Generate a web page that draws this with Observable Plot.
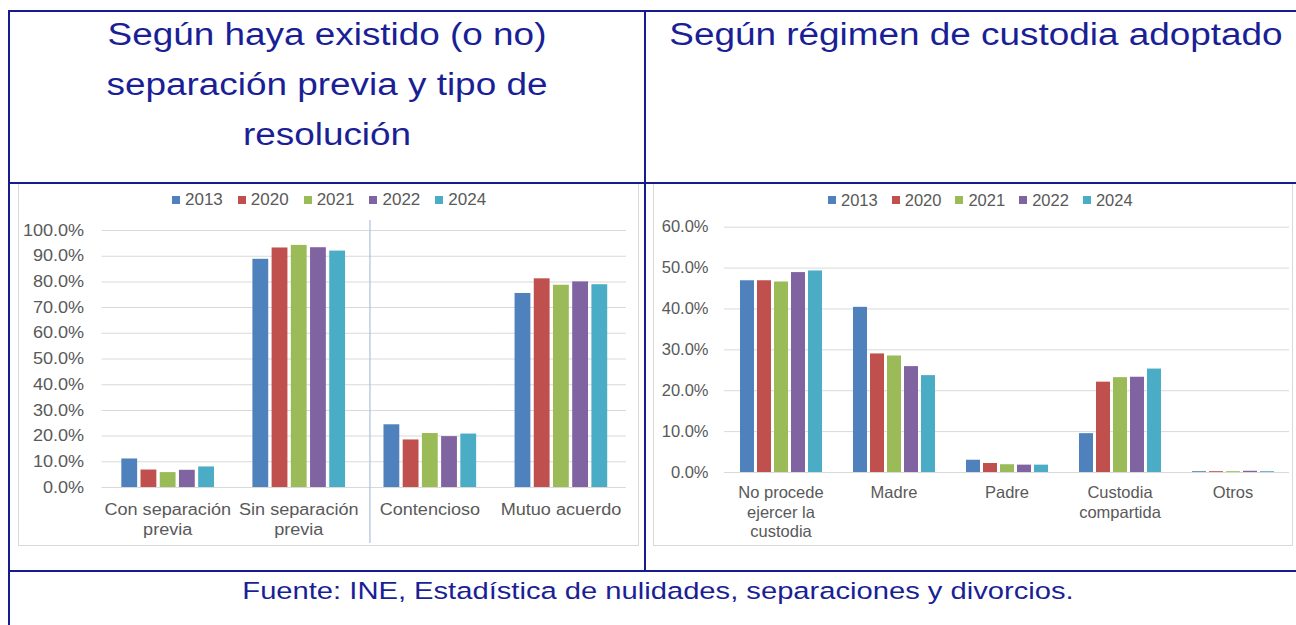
<!DOCTYPE html>
<html>
<head>
<meta charset="utf-8">
<script src="https://cdn.jsdelivr.net/npm/d3@7"></script>
<script src="https://cdn.jsdelivr.net/npm/@observablehq/plot@0.6"></script>
<style>
  html, body { margin: 0; padding: 0; background: #fff; }
  #page { position: relative; width: 1296px; height: 625px; overflow: hidden; background: #fff;
          font-family: "Liberation Sans", Arial, sans-serif; }
  .bline { position: absolute; background: #171b8e; }
  .title { position: absolute; color: #1b1f96; text-align: center; font-size: 31px; line-height: 50px;
           transform: scaleX(1.19); transform-origin: center; white-space: nowrap; }
  .frame { position: absolute; border: 1px solid #d9d9d9; box-sizing: border-box; pointer-events: none; }
  .chart { position: absolute; }
  .legend { position: absolute; }
  #legL .lgL-swatch { margin-right: 15px; }
  #legR .lgR-swatch { margin-right: 14px; }
  #legL .lgL-swatch > svg, #legR .lgR-swatch > svg { margin-right: 5px; }
  #legL .lgL-swatches-wrap, #legR .lgR-swatches-wrap { min-height: 20px; }
</style>
</head>
<body>
<div id="page">
  <div class="title" style="left:10px; top:10px; width:634px;">Según haya existido (o no)<br>separación previa y tipo de<br>resolución</div>
  <div class="title" style="left:646px; top:10px; width:660px;">Según régimen de custodia adoptado</div>
  <div class="title" style="left:8px; top:576px; width:1300px; font-size:24.5px; line-height:30px;">Fuente: INE, Estadística de nulidades, separaciones y divorcios.</div>

  <div id="chartL" class="chart" style="left:18px; top:183px;"></div>
  <div id="chartR" class="chart" style="left:653px; top:183px;"></div>
  <div class="frame" style="left:18px; top:183px; width:621px; height:363px;"></div>
  <div class="frame" style="left:653px; top:183px; width:640px; height:363px;"></div>
  <div id="legL" class="legend" style="left:172px; top:190px;"></div>
  <div id="legR" class="legend" style="left:828px; top:190px;"></div>

  <div class="bline" style="left:8px; top:10px; width:1300px; height:2px;"></div>
  <div class="bline" style="left:8px; top:10px; width:2px; height:620px;"></div>
  <div class="bline" style="left:644px; top:10px; width:2px; height:562px;"></div>
  <div class="bline" style="left:8px; top:182px; width:1300px; height:2px;"></div>
  <div class="bline" style="left:8px; top:570px; width:1300px; height:2px;"></div>
</div>
<script>
// ---- data ----
const years = ["2013", "2020", "2021", "2022", "2024"];
const yearColors = ["#4F81BD", "#C0504D", "#9BBB59", "#8064A2", "#4BACC6"];

const leftCategories = ["Con separación previa", "Sin separación previa", "Contencioso", "Mutuo acuerdo"];
const leftLabels = ["Con separación\nprevia", "Sin separación\nprevia", "Contencioso", "Mutuo acuerdo"];
const left2013 = [11.1, 88.8, 24.4, 75.5];
const left2020 = [6.8, 93.2, 18.5, 81.2];
const left2021 = [5.8, 94.2, 21.0, 78.7];
const left2022 = [6.7, 93.3, 19.8, 80.0];
const left2024 = [8.0, 92.0, 20.8, 78.9];
const leftTicks = [0, 10, 20, 30, 40, 50, 60, 70, 80, 90, 100];

const rightCategories = ["No procede ejercer la custodia", "Madre", "Padre", "Custodia compartida", "Otros"];
const rightLabels = ["No procede\nejercer la\ncustodia", "Madre", "Padre", "Custodia\ncompartida", "Otros"];
const right2013 = [46.9, 40.4, 3.0, 9.5, 0.2];
const right2020 = [46.9, 29.0, 2.2, 22.1, 0.2];
const right2021 = [46.6, 28.5, 1.9, 23.2, 0.2];
const right2022 = [48.9, 25.9, 1.8, 23.3, 0.3];
const right2024 = [49.3, 23.7, 1.8, 25.3, 0.2];
const rightTicks = [0, 10, 20, 30, 40, 50, 60];

// ---- tables ----
const leftSeries = [left2013, left2020, left2021, left2022, left2024];
const rightSeries = [right2013, right2020, right2021, right2022, right2024];
const tableL = years.flatMap((y, i) => leftCategories.map((c, j) => ({cat: c, year: y, value: leftSeries[i][j]})));
const tableR = years.flatMap((y, i) => rightCategories.map((c, j) => ({cat: c, year: y, value: rightSeries[i][j]})));
const pct = d => d3.format(".1f")(d) + "%";
const font = "'Liberation Sans', Arial, sans-serif";

// ---- left chart (drawn then stretched horizontally like the source image) ----
const stretchL = 1.13;
const dispWL = 620, HL = 362;
const WL = dispWL / stretchL;
const plotL = Plot.plot({
  width: WL, height: HL,
  marginLeft: 82 / stretchL, marginRight: 10 / stretchL, marginTop: 47, marginBottom: 58,
  style: {fontFamily: font, fontSize: "16px", color: "#595959", background: "white", overflow: "visible"},
  fx: {domain: leftCategories, padding: 0, label: null},
  x: {domain: years, paddingInner: 0.18, paddingOuter: 0.89, axis: null},
  y: {domain: [0, 100], label: null, axis: null},
  color: {domain: years, range: yearColors},
  marks: [
    Plot.gridY(leftTicks, {stroke: "#d9d9d9", strokeOpacity: 1}),
    Plot.barY(tableL, {fx: "cat", x: "year", y: "value", fill: "year"}),
    Plot.ruleX([{cat: "Contencioso", year: "2013"}], {fx: "cat", x: "year", stroke: "#a9bcd9", dx: -22 / stretchL, insetTop: -10, insetBottom: -56}),
    Plot.axisY({ticks: leftTicks, tickFormat: pct, tickSize: 0, tickPadding: 18 / stretchL, label: null}),
    Plot.axisFx({anchor: "bottom", tickSize: 0, tickPadding: 13, label: null, lineHeight: 1.25,
                 tickFormat: d => leftLabels[leftCategories.indexOf(d)]})
  ]
});
plotL.setAttribute("preserveAspectRatio", "none");
plotL.style.width = dispWL + "px";
plotL.style.height = HL + "px";
plotL.style.maxWidth = "none";
document.getElementById("chartL").appendChild(plotL);

// ---- right chart ----
const plotR = Plot.plot({
  width: 638, height: 362,
  marginLeft: 69, marginRight: 1, marginTop: 43.7, marginBottom: 73,
  style: {fontFamily: font, fontSize: "16.5px", color: "#595959", background: "white", overflow: "visible"},
  fx: {domain: rightCategories, padding: 0, label: null},
  x: {domain: years, paddingInner: 0.19, paddingOuter: 0.85, axis: null},
  y: {domain: [0, 60], label: null, axis: null},
  color: {domain: years, range: yearColors},
  marks: [
    Plot.gridY(rightTicks, {stroke: "#d9d9d9", strokeOpacity: 1}),
    Plot.barY(tableR, {fx: "cat", x: "year", y: "value", fill: "year"}),
    Plot.axisY({ticks: rightTicks, tickFormat: pct, tickSize: 0, tickPadding: 16, label: null}),
    Plot.axisFx({anchor: "bottom", tickSize: 0, tickPadding: 12, label: null, lineHeight: 1.18,
                 tickFormat: d => rightLabels[rightCategories.indexOf(d)]})
  ]
});
plotR.style.maxWidth = "none";
document.getElementById("chartR").appendChild(plotR);

// ---- legends ----
const legOpts = (cls, size) => ({
  color: {domain: years, range: yearColors},
  legend: "swatches", swatchSize: 8, className: cls,
  style: {fontFamily: font, fontSize: size, color: "#595959", margin: "0"}
});
document.getElementById("legL").appendChild(Plot.legend(legOpts("lgL", "17px")));
document.getElementById("legR").appendChild(Plot.legend(legOpts("lgR", "16.5px")));
</script>
</body>
</html>
